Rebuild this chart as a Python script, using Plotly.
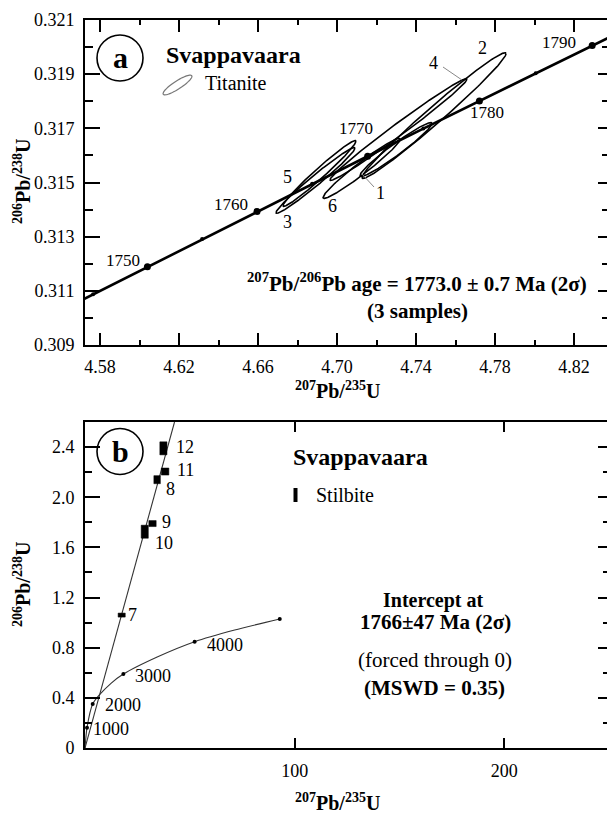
import numpy as np
import plotly.graph_objects as go

# ---------------- data: panel a (titanite) ----------------
conc_a_age = [1740, 1745, 1750, 1755, 1760, 1765, 1770, 1775, 1780, 1785, 1790, 1795]
conc_a_x = [4.5491, 4.5765, 4.6040, 4.6317, 4.6595, 4.6874, 4.7155, 4.7437, 4.7721, 4.8006, 4.8292, 4.8580]
conc_a_y = [0.30986, 0.31087, 0.31189, 0.31291, 0.31393, 0.31495, 0.31597, 0.31699, 0.31801, 0.31903, 0.32006, 0.32108]
conc_a_labelled = [1750, 1760, 1770, 1780, 1790]

ell_id = ["1", "2", "3", "4", "5", "6"]
ell_x = [4.72987, 4.74911, 4.68911, 4.73114, 4.69114, 4.71241]
ell_y = [0.316219, 0.317471, 0.315077, 0.316956, 0.315335, 0.315519]
ell_sx = [0.01823, 0.03646, 0.02000, 0.03468, 0.01848, 0.01949]
ell_sy = [0.000994, 0.002320, 0.001215, 0.001878, 0.001215, 0.001105]
ell_rho = [0.965, 0.985, 0.9805, 0.989, 0.979, 0.970]

xa_ticks = [4.58, 4.62, 4.66, 4.70, 4.74, 4.78, 4.82]
xa_labels = ["4.58", "4.62", "4.66", "4.70", "4.74", "4.78", "4.82"]
xa_minor = [4.60, 4.64, 4.68, 4.72, 4.76, 4.80]
ya_ticks = [0.309, 0.311, 0.313, 0.315, 0.317, 0.319, 0.321]
ya_labels = ["0.309", "0.311", "0.313", "0.315", "0.317", "0.319", "0.321"]
ya_minor = [0.310, 0.312, 0.314, 0.316, 0.318, 0.320]

# ---------------- data: panel b (stilbite) ----------------
conc_b_x = [0, 0.96, 3.67, 6.85, 12.4, 18.3, 34.7, 52.3, 71.4, 92.9]
conc_b_y = [0, 0.162, 0.351, 0.423, 0.516, 0.590, 0.728, 0.848, 0.941, 1.029]
conc_b_dot_x = [0.96, 3.67, 18.3, 52.3, 92.9]
conc_b_dot_y = [0.162, 0.351, 0.590, 0.848, 1.029]
conc_b_dot_lab = ["1000", "2000", "3000", "4000", ""]

disc_x = [0, 42.7]
disc_y = [0, 2.6]

stil_id = ["7", "8", "9", "10", "11", "12"]
stil_x = [17.5, 34.4, 32.2, 28.5, 38.2, 37.4]
stil_y = [1.06, 2.14, 1.79, 1.725, 2.205, 2.39]
stil_ex = [1.7, 1.55, 1.75, 1.7, 1.8, 1.7]
stil_ey = [0.016, 0.032, 0.024, 0.052, 0.028, 0.052]

xb_ticks = [100, 200]
xb_labels = ["100", "200"]
yb_ticks = [0, 0.4, 0.8, 1.2, 1.6, 2.0, 2.4]
yb_labels = ["0", "0.4", "0.8", "1.2", "1.6", "2.0", "2.4"]
yb_minor = [0.2, 0.6, 1.0, 1.4, 1.8, 2.2]

# ---------------- layout helpers ----------------
W, H = 607, 814
ML = 85
FONT = "Liberation Serif"


def px(xp):
    return (xp - ML) / (W - ML)


def py(yp):
    return 1 - yp / H


fig = go.Figure()

# ---- panel a traces ----
for i in range(len(ell_id)):
    t = np.linspace(0, 2 * np.pi, 200)
    ex = ell_x[i] + ell_sx[i] * np.cos(t)
    ey = ell_y[i] + ell_sy[i] * (ell_rho[i] * np.cos(t) + np.sqrt(1 - ell_rho[i] ** 2) * np.sin(t))
    fig.add_trace(go.Scatter(x=ex, y=ey, mode="lines", line=dict(color="black", width=1.6),
                             xaxis="x", yaxis="y", hoverinfo="skip"))

fig.add_trace(go.Scatter(x=conc_a_x, y=conc_a_y, mode="lines", line=dict(color="black", width=2.6),
                         xaxis="x", yaxis="y", hoverinfo="skip"))
big_x = [x for a, x in zip(conc_a_age, conc_a_x) if a in conc_a_labelled]
big_y = [y for a, y in zip(conc_a_age, conc_a_y) if a in conc_a_labelled]
small_x = [x for a, x in zip(conc_a_age, conc_a_x) if a not in conc_a_labelled]
small_y = [y for a, y in zip(conc_a_age, conc_a_y) if a not in conc_a_labelled]
fig.add_trace(go.Scatter(x=big_x, y=big_y, mode="markers", marker=dict(color="black", size=7),
                         xaxis="x", yaxis="y", hoverinfo="skip"))
fig.add_trace(go.Scatter(x=small_x, y=small_y, mode="markers", marker=dict(color="black", size=4),
                         xaxis="x", yaxis="y", hoverinfo="skip"))
# dummy for right tick axis
fig.add_trace(go.Scatter(x=[4.6], y=[0.31], mode="markers", marker=dict(opacity=0),
                         xaxis="x", yaxis="y3", hoverinfo="skip"))

# ---- panel b traces ----
fig.add_trace(go.Scatter(x=disc_x, y=disc_y, mode="lines", line=dict(color="#333", width=1.1),
                         xaxis="x2", yaxis="y2", hoverinfo="skip"))
fig.add_trace(go.Scatter(x=conc_b_x, y=conc_b_y, mode="lines", line=dict(color="#333", width=1.1, shape="spline", smoothing=0.6),
                         xaxis="x2", yaxis="y2", hoverinfo="skip"))
fig.add_trace(go.Scatter(x=conc_b_dot_x, y=conc_b_dot_y, mode="markers", marker=dict(color="black", size=4),
                         xaxis="x2", yaxis="y2", hoverinfo="skip", cliponaxis=False))
fig.add_trace(go.Scatter(x=[100], y=[1], mode="markers", marker=dict(opacity=0),
                         xaxis="x2", yaxis="y4", hoverinfo="skip"))

shapes = []
for i in range(len(stil_id)):
    shapes.append(dict(type="rect", xref="x2", yref="y2",
                       x0=stil_x[i] - stil_ex[i], x1=stil_x[i] + stil_ex[i],
                       y0=stil_y[i] - stil_ey[i], y1=stil_y[i] + stil_ey[i],
                       fillcolor="black", line=dict(color="black", width=0.5)))

# ---------------- axes ----------------
common = dict(showgrid=False, zeroline=False, ticks="inside", tickcolor="black", tickwidth=1.5,
              automargin=False, tickfont=dict(family=FONT, size=18, color="black"),
              linecolor="black", linewidth=2)

fig.update_layout(
    template="none",
    width=W, height=H,
    margin=dict(l=ML, r=0, t=0, b=0),
    paper_bgcolor="white", plot_bgcolor="white",
    showlegend=False,
    font=dict(family=FONT, size=18, color="black"),
    xaxis=dict(common, domain=[0, 1], anchor="y", range=[4.5724, 4.8367], tickmode="array",
               tickvals=xa_ticks, ticktext=xa_labels, ticklen=12, showline=True, mirror="ticks",
               ticklabelstandoff=4,
               minor=dict(tickmode="array", tickvals=xa_minor, ticks="inside", ticklen=5,
                          tickwidth=1.5, tickcolor="black", showgrid=False)),
    yaxis=dict(common, domain=[py(345), py(20)], anchor="x", range=[0.309, 0.321], tickmode="array",
               tickvals=ya_ticks, ticktext=ya_labels, ticklen=15, showline=True, mirror=False,
               ticklabelstandoff=5,
               minor=dict(tickmode="array", tickvals=ya_minor, ticks="inside", ticklen=8,
                          tickwidth=1.5, tickcolor="black", showgrid=False)),
    yaxis3=dict(common, overlaying="y", side="right", anchor="x", range=[0.309, 0.321], tickmode="array",
                tickvals=ya_ticks, ticklen=9, showline=False, showticklabels=False,
                minor=dict(tickmode="array", tickvals=ya_minor, ticks="inside", ticklen=5,
                           tickwidth=1.5, tickcolor="black", showgrid=False)),
    xaxis2=dict(common, domain=[0, 1], anchor="y2", range=[0, 249], tickmode="array",
                tickvals=xb_ticks, ticktext=xb_labels, ticklen=10, showline=True, mirror="ticks",
                ticklabelstandoff=5),
    yaxis2=dict(common, domain=[py(748), py(422)], anchor="x2", range=[0, 2.6], tickmode="array",
                tickvals=yb_ticks, ticktext=yb_labels, ticklen=15, showline=True, mirror=False,
                ticklabelstandoff=5,
                minor=dict(tickmode="array", tickvals=yb_minor, ticks="inside", ticklen=7,
                           tickwidth=1.5, tickcolor="black", showgrid=False)),
    yaxis4=dict(common, overlaying="y2", side="right", anchor="x2", range=[0, 2.6], tickmode="array",
                tickvals=yb_ticks, ticklen=9, showline=False, showticklabels=False,
                minor=dict(tickmode="array", tickvals=yb_minor, ticks="inside", ticklen=4,
                           tickwidth=1.5, tickcolor="black", showgrid=False)),
)

# ---------------- annotations ----------------
ann = []


def A(text, xp, yp, size=18, xanchor="center", yanchor="middle", angle=0):
    ann.append(dict(text=text, x=px(xp), y=py(yp), xref="paper", yref="paper", showarrow=False,
                    font=dict(family=FONT, size=size, color="black"), xanchor=xanchor, yanchor=yanchor,
                    textangle=angle))


# axis titles
A("<b><sup>207</sup>Pb/<sup>235</sup>U</b>", 337, 390, size=20)
A("<b><sup>206</sup>Pb/<sup>238</sup>U</b>", 22, 182, size=20, angle=-90)
A("<b><sup>207</sup>Pb/<sup>235</sup>U</b>", 337, 802, size=20)
A("<b><sup>206</sup>Pb/<sup>238</sup>U</b>", 22, 585, size=20, angle=-90)

# panel a legend
A("<b>a</b>", 120, 57, size=30)
A("<b>Svappavaara</b>", 164, 55, size=24, xanchor="left")
A("Titanite", 203, 83, size=20, xanchor="left")
# panel a result text
A("<b><sup>207</sup>Pb/<sup>206</sup>Pb age = 1773.0 ± 0.7 Ma (2σ)</b>", 417, 282, size=21)
A("<b>(3 samples)</b>", 417, 311, size=21)

# ellipse labels
ell_lab_pos = {"1": (380, 193), "2": (482, 48), "3": (287, 222), "4": (433, 63), "5": (287, 177), "6": (332, 206)}
for k in ell_id:
    A(k, ell_lab_pos[k][0], ell_lab_pos[k][1], size=18)

# concordia age labels panel a (offsets in pixels)
age_shift = {1750: (-24.5, -6.5), 1760: (-26, -7), 1770: (-12, -28), 1780: (8, 12), 1790: (-33.5, -3)}
for a, x, y in zip(conc_a_age, conc_a_x, conc_a_y):
    if a in age_shift:
        dx, dy = age_shift[a]
        ann.append(dict(text=str(a), x=x, y=y, xref="x", yref="y", showarrow=False,
                        font=dict(family=FONT, size=17, color="black"), xshift=dx, yshift=-dy))

# panel b legend
A("<b>b</b>", 120, 451, size=30)
A("<b>Svappavaara</b>", 291, 457, size=24, xanchor="left")
A("Stilbite", 314, 495, size=20, xanchor="left")
A("<b>Intercept at</b>", 433, 600, size=20)
A("<b>1766±47 Ma (2σ)</b>", 435, 622, size=21)
A("(forced through 0)", 435, 660, size=21)
A("<b>(MSWD = 0.35)</b>", 434, 688, size=21)

# stilbite labels
stil_shift = {"7": (10.5, 0), "8": (12.5, 9.4), "9": (13.6, -1.5), "10": (14, 11.4), "11": (16, -1.4), "12": (17, -1)}
for k, x, y in zip(stil_id, stil_x, stil_y):
    dx, dy = stil_shift[k]
    ann.append(dict(text=k, x=x, y=y, xref="x2", yref="y2", showarrow=False, xanchor="left",
                    font=dict(family=FONT, size=18, color="black"), xshift=dx - 6, yshift=-dy))

# concordia b labels
cb_shift = [(24, 1), (30, 1), (30, 2), (30, 3)]
for lab, x, y, s in zip(conc_b_dot_lab, conc_b_dot_x, conc_b_dot_y, cb_shift + [(0, 0)]):
    if lab:
        ann.append(dict(text=lab, x=x, y=y, xref="x2", yref="y2", showarrow=False,
                        font=dict(family=FONT, size=18, color="black"), xshift=s[0], yshift=-s[1]))

# ---------------- decorative shapes (paper, from pixel positions) ----------------
for cy in (58, 451.5):
    shapes.append(dict(type="circle", xref="paper", yref="paper",
                       x0=px(120 - 23), x1=px(120 + 23), y0=py(cy + 23), y1=py(cy - 23),
                       line=dict(color="black", width=1.6)))

# titanite icon ellipse
tt = np.linspace(0, 2 * np.pi, 60)
ang = np.deg2rad(33)
ex = 177.5 + 17 * np.cos(tt) * np.cos(ang) + 4 * np.sin(tt) * np.sin(ang)
ey = 85 - 17 * np.cos(tt) * np.sin(ang) + 4 * np.sin(tt) * np.cos(ang)
path = "M " + " L ".join(f"{px(a):.5f},{py(b):.5f}" for a, b in zip(ex, ey)) + " Z"
shapes.append(dict(type="path", xref="paper", yref="paper", path=path, line=dict(color="#777", width=1.2)))

# stilbite icon
shapes.append(dict(type="rect", xref="paper", yref="paper", x0=px(293.5), x1=px(297.5), y0=py(502), y1=py(488),
                   fillcolor="black", line=dict(color="black", width=0)))

# leader lines
shapes.append(dict(type="line", xref="paper", yref="paper", x0=px(443), y0=py(67), x1=px(462), y1=py(80),
                   line=dict(color="#888", width=1)))
shapes.append(dict(type="line", xref="paper", yref="paper", x0=px(362), y0=py(174), x1=px(374), y1=py(187),
                   line=dict(color="#888", width=1)))

fig.update_layout(annotations=ann, shapes=shapes)

fig.write_html("out.html")
